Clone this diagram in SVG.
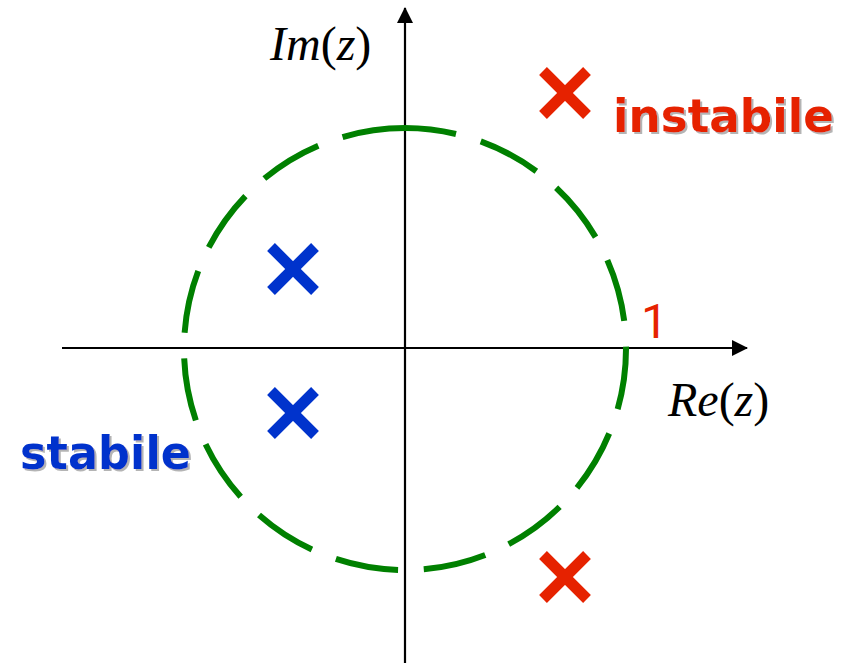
<svg xmlns="http://www.w3.org/2000/svg" width="842" height="663" viewBox="0 0 842 663">
<defs>
<style>
.axis{stroke:#000;stroke-width:2.2;fill:none}
.circ{stroke:#008000;stroke-width:6;fill:none;stroke-dasharray:63.3 25.8}
.xr{stroke:#E62200;stroke-width:11}
.xb{stroke:#0033CC;stroke-width:11}
.math{font-family:"Liberation Serif","Times New Roman",serif;font-size:48px;fill:#000}
.lbl{font-family:"DejaVu Sans",Verdana,sans-serif;font-weight:bold;font-size:46px;filter:url(#shadow)}
.one{font-family:Roboto,"Noto Sans",sans-serif;font-size:48px;fill:#E62200}
</style>
<filter id="shadow" x="-5%" y="-10%" width="115%" height="130%">
<feOffset in="SourceAlpha" dx="2" dy="2" result="o"/>
<feFlood flood-color="#b4b4b4"/>
<feComposite in2="o" operator="in" result="s"/>
<feMerge><feMergeNode in="s"/><feMergeNode in="SourceGraphic"/></feMerge>
</filter>
<marker id="arr" markerWidth="16" markerHeight="16" refX="15" refY="8" orient="auto" markerUnits="userSpaceOnUse">
<path d="M0,0 L16,8 L0,16 Z" fill="#000"/>
</marker>
</defs>
<rect width="842" height="663" fill="#fff"/>
<g id="connectors">
<line class="axis" x1="62" y1="348" x2="747" y2="348" marker-end="url(#arr)"/>
<line class="axis" x1="405" y1="663" x2="405" y2="8" marker-end="url(#arr)"/>
</g>
<g id="unit-circle">
<path class="circ" d="M405,128 A221,221 0 0 0 405,570 A221,221 0 0 0 405,128"/>
</g>
<g id="pole-unstable-top">
<line class="xr" x1="543" y1="71" x2="587" y2="115"/>
<line class="xr" x1="587" y1="71" x2="543" y2="115"/>
</g>
<g id="pole-unstable-bottom">
<line class="xr" x1="543" y1="555" x2="587" y2="599"/>
<line class="xr" x1="587" y1="555" x2="543" y2="599"/>
</g>
<g id="pole-stable-top">
<line class="xb" x1="271" y1="247" x2="315" y2="291"/>
<line class="xb" x1="315" y1="247" x2="271" y2="291"/>
</g>
<g id="pole-stable-bottom">
<line class="xb" x1="271" y1="391" x2="315" y2="435"/>
<line class="xb" x1="315" y1="391" x2="271" y2="435"/>
</g>
<g id="label-im">
<text class="math" x="270" y="60"><tspan font-style="italic">Im</tspan>(<tspan font-style="italic">z</tspan>)</text>
</g>
<g id="label-re">
<text class="math" x="668" y="416"><tspan font-style="italic">Re</tspan>(<tspan font-style="italic">z</tspan>)</text>
</g>
<g id="label-one">
<text class="one" x="641" y="338">1</text>
</g>
<g id="label-instabile">
<text class="lbl" x="613" y="132" fill="#E62200" textLength="221" lengthAdjust="spacingAndGlyphs">instabile</text>
</g>
<g id="label-stabile">
<text class="lbl" x="20" y="469" fill="#0033CC" textLength="171" lengthAdjust="spacingAndGlyphs">stabile</text>
</g>
</svg>
